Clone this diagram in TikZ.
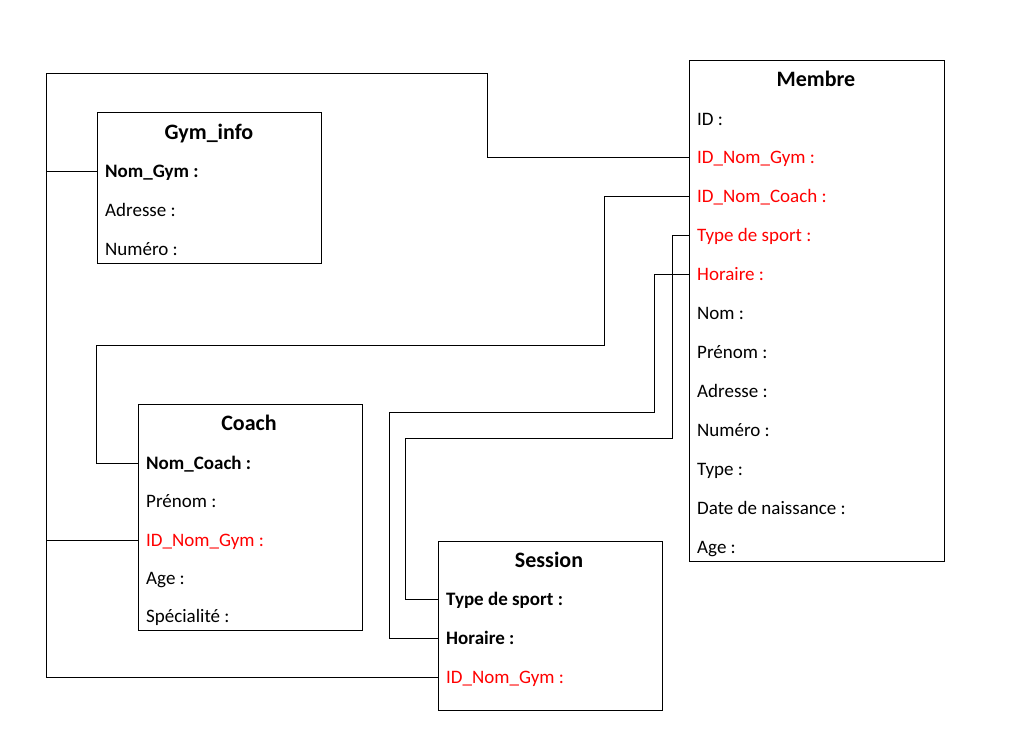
\documentclass[tikz,border=0pt]{standalone}
\usepackage{fontspec}
\setmainfont{Carlito}
\usetikzlibrary{positioning}
\tikzstyle{table} = [draw,line width=0.9pt,anchor=north west,inner sep=0pt]
\tikzstyle{title} = [font=\fontsize{22}{26}\selectfont\bfseries,inner sep=0pt,text height=16pt,text depth=0pt]
\tikzstyle{field} = [font=\fontsize{19}{23}\selectfont,anchor=west,inner sep=0pt,text height=15pt,text depth=2pt]
\tikzstyle{key field} = [field,font=\fontsize{19}{23}\selectfont\bfseries]
\tikzstyle{foreign field} = [field,text=red]
\tikzstyle{link} = [draw,line width=0.9pt,-]

\begin{document}
\begin{tikzpicture}[x=1pt,y=-1pt]
    \useasboundingbox (0,0) rectangle (1030,747);
    % Draw the four tables
    \node[table,minimum width=224pt,minimum height=151pt] (gym) at (97,112) {};
    \node[table,minimum width=255pt,minimum height=501pt] (membre) at (689,60) {};
    \node[table,minimum width=224pt,minimum height=226pt] (coach) at (138,404) {};
    \node[table,minimum width=224pt,minimum height=169pt] (session) at (438,541) {};

    % Then the titles
    \foreach \pos/\name/\txt in {{(209,131)/tgym/Gym\_info},{(816,78)/tmembre/Membre},
        {(249,422)/tcoach/Coach},{(549,559)/tsession/Session}}
        \node[title] (\name) at \pos {\txt};

    % Plain fields
    \foreach \pos/\name/\txt in {{(105,210)/gadresse/Adresse :},{(105,249)/gnumero/Numéro :},
        {(697,119)/mid/ID :},{(697,313)/mnom/Nom :},{(697,352)/mprenom/Prénom :},
        {(697,391)/madresse/Adresse :},{(697,430)/mnumero/Numéro :},{(697,469)/mtype/Type :},
        {(697,508)/mdate/Date de naissance :},{(697,547)/mage/Age :},
        {(146,501)/cprenom/Prénom :},{(146,578)/cage/Age :},{(146,616)/cspec/Spécialité :}}
        \node[field] (\name) at \pos {\txt};

    % Key fields
    \foreach \pos/\name/\txt in {{(105,171)/gnom/Nom\_Gym :},{(146,463)/cnom/Nom\_Coach :},
        {(446,599)/ssport/Type de sport :},{(446,638)/shoraire/Horaire :}}
        \node[key field] (\name) at \pos {\txt};

    % Foreign fields
    \foreach \pos/\name/\txt in {{(697,157)/mgym/ID\_Nom\_Gym :},{(697,196)/mcoach/ID\_Nom\_Coach :},
        {(697,235)/msport/Type de sport :},{(697,274)/mhoraire/Horaire :},
        {(146,540)/cgym/ID\_Nom\_Gym :},{(446,677)/sgym/ID\_Nom\_Gym :}}
        \node[foreign field] (\name) at \pos {\txt};

    % Corners of the links
    \coordinate (trunk top) at (46,73);
    \coordinate (trunk bottom) at (46,677);

    % Connect the fields
    \path[link] (membre.west |- mgym) -| (487,73) -- (trunk top) -- (trunk bottom) -- (session.west |- sgym);
    \path[link] (trunk top |- gnom) -- (gym.west |- gnom);
    \path[link] (trunk top |- cgym) -- (coach.west |- cgym);
    \path[link] (membre.west |- mcoach) -| (604,345) -| (96,463) -- (coach.west |- cnom);
    \path[link] (membre.west |- msport) -| (672,438) -| (405,599) -- (session.west |- ssport);
    \path[link] (membre.west |- mhoraire) -| (654,412) -| (389,638) -- (session.west |- shoraire);
\end{tikzpicture}
\end{document}
